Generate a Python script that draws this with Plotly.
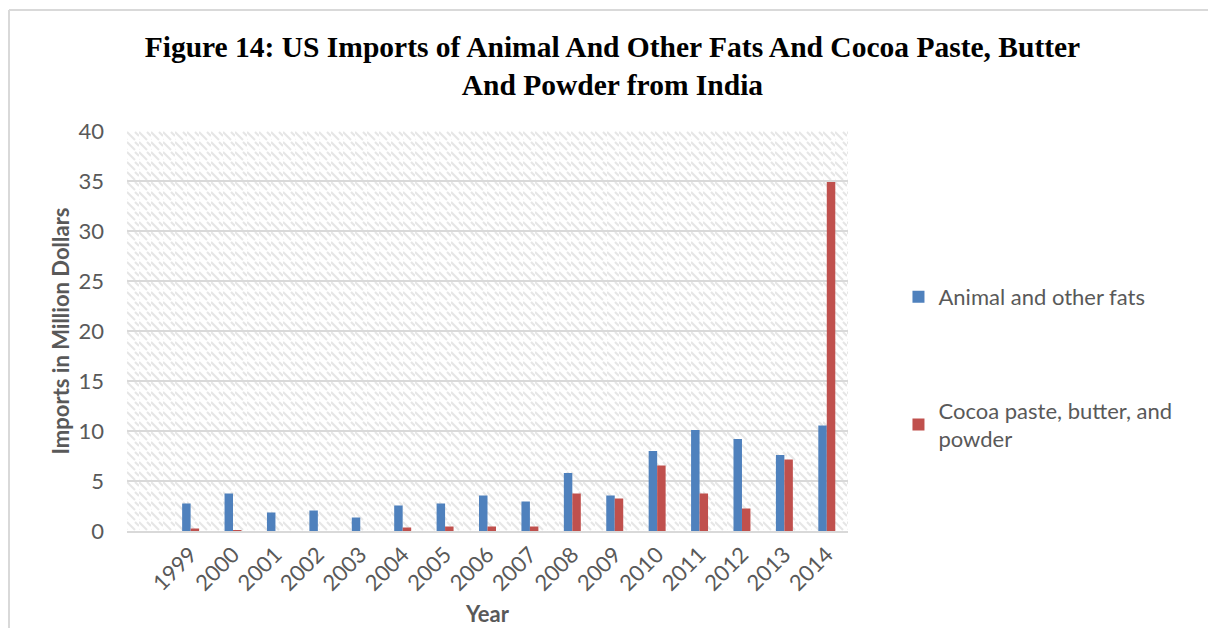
import base64
import plotly.graph_objects as go

# Annual US imports from India, million dollars
years = ["1999", "2000", "2001", "2002", "2003", "2004", "2005", "2006",
         "2007", "2008", "2009", "2010", "2011", "2012", "2013", "2014"]
animal_fats = [2.75, 3.75, 1.85, 2.05, 1.35, 2.55, 2.75, 3.55,
               2.95, 5.8, 3.55, 8.0, 10.1, 9.2, 7.6, 10.55]
cocoa = [0.25, 0.05, 0.0, 0.0, 0.0, 0.35, 0.45, 0.45,
         0.45, 3.75, 3.25, 6.55, 3.75, 2.25, 7.15, 34.9]
y_ticks = [0, 5, 10, 15, 20, 25, 30, 35, 40]

BLUE = "#4f81bd"
RED = "#c0504d"
TEXT = "#595959"
GRID = "#d9d9d9"
FONT = "Lato"
FS = 22

# Light diagonal hatch for the plotting area background
PW, PH = 721, 400
hatch_svg = f"""<svg xmlns='http://www.w3.org/2000/svg' width='{PW}' height='{PH}'>
<defs><pattern id='h' width='12' height='10' patternUnits='userSpaceOnUse'>
<rect width='12' height='10' fill='white'/>
<path d='M0,1 L8,9 M8,1 L12,5 M-4,5 L0,9' stroke='#e6e6e6' stroke-width='2'/>
</pattern></defs>
<rect width='{PW}' height='{PH}' fill='url(#h)'/></svg>"""
hatch_uri = "data:image/svg+xml;base64," + base64.b64encode(hatch_svg.encode()).decode()

fig = go.Figure()
fig.add_trace(go.Bar(x=years, y=animal_fats, name="Animal and other fats",
                     marker=dict(color=BLUE, line=dict(width=0)), legend="legend"))
fig.add_trace(go.Bar(x=years, y=cocoa, name="Cocoa paste, butter, and<br>powder",
                     marker=dict(color=RED, line=dict(width=0)), legend="legend2"))

legend_style = dict(xanchor="left", bgcolor="rgba(0,0,0,0)",
                    font=dict(family=FONT, size=FS, color=TEXT), itemwidth=30)

fig.update_layout(
    width=1208, height=628,
    margin=dict(l=127, r=360, t=131, b=97),
    paper_bgcolor="white", plot_bgcolor="rgba(0,0,0,0)",
    showlegend=True,
    barmode="group", bargap=0.6, bargroupgap=0.0,
    font=dict(family=FONT, size=FS, color=TEXT),
    title=dict(
        text="Figure 14: US Imports of Animal And Other Fats And Cocoa Paste, Butter<br>And Powder from India",
        font=dict(family="Liberation Serif", size=29.5, color="black", weight="bold"),
        x=0.507, xanchor="center", xref="container",
        y=1 - 57 / 628, yanchor="top", yref="container", automargin=False,
    ),
    xaxis=dict(
        type="category", categoryorder="array", categoryarray=years,
        range=[-1.5, 15.5], tickangle=-45, showgrid=False, automargin=False,
        showline=True, linecolor=GRID, linewidth=2,
        ticks="", tickfont=dict(family=FONT, size=FS, color=TEXT),
        title=dict(text="Year", font=dict(family=FONT, size=FS, color=TEXT, weight="bold"), standoff=12),
    ),
    yaxis=dict(
        range=[0, 40], tickvals=y_ticks, showgrid=True, gridcolor=GRID, gridwidth=2,
        zeroline=False, showline=False, ticks="", ticklabelstandoff=22, automargin=False,
        tickfont=dict(family=FONT, size=FS, color=TEXT),
        title=dict(text="Imports in Million Dollars",
                   font=dict(family=FONT, size=FS, color=TEXT, weight="bold"), standoff=2),
    ),
    legend=dict(x=1.07, y=0.585, yanchor="middle", **legend_style),
    legend2=dict(x=1.07, y=0.265, yanchor="middle", **legend_style),
    images=[dict(source=hatch_uri, xref="paper", yref="paper", x=0, y=1,
                 sizex=1, sizey=1, sizing="stretch", layer="below",
                 xanchor="left", yanchor="top")],
    shapes=[
        # outer frame (top and left edges)
        dict(type="line", xref="paper", yref="paper",
             x0=-118 / 721, y0=(628 - 10 - 97) / 400, x1=1208 / 721, y1=(628 - 10 - 97) / 400,
             line=dict(color=GRID, width=2)),
        dict(type="line", xref="paper", yref="paper",
             x0=-118 / 721, y0=(628 - 10 - 97) / 400, x1=-118 / 721, y1=-97 / 400,
             line=dict(color=GRID, width=2)),
    ],
)

fig.write_html("out.html")
